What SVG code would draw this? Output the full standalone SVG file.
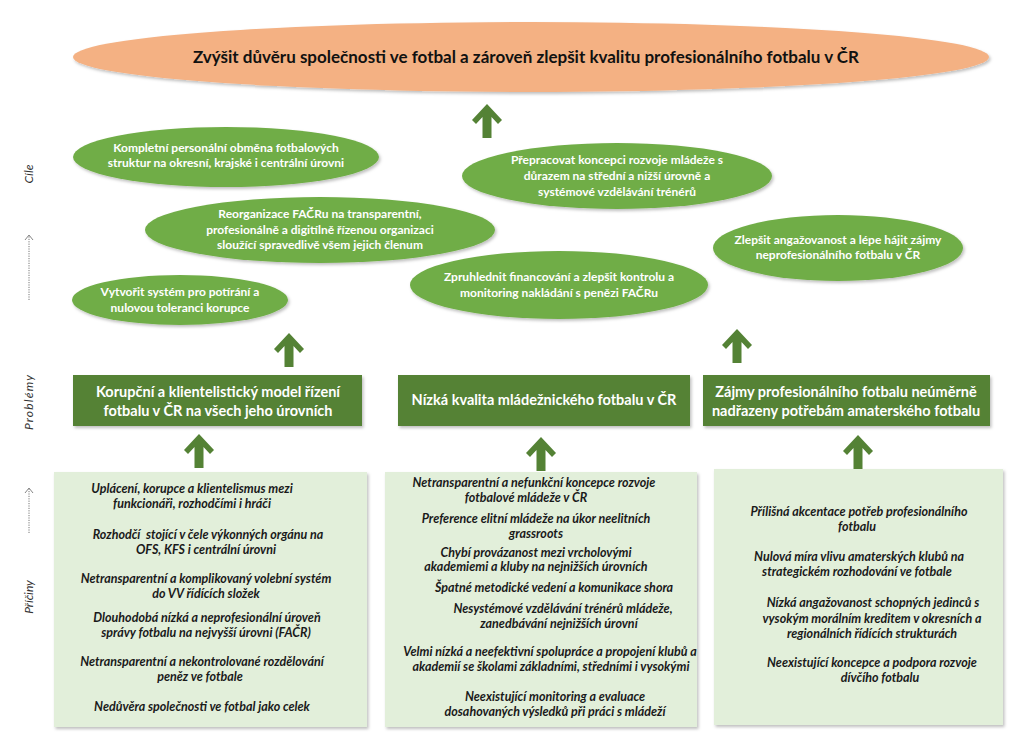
<svg xmlns="http://www.w3.org/2000/svg" width="1024" height="748" viewBox="0 0 1024 748">
<defs>
<filter id="sh" x="-10%" y="-10%" width="120%" height="130%">
<feDropShadow dx="1.5" dy="2" stdDeviation="1.5" flood-color="#000" flood-opacity="0.25"/>
</filter>
<path id="arr" d="M0,0 L15,16 L11,20 L4.5,13 L4.5,34 L-4.5,34 L-4.5,13 L-11,20 L-15,16 Z"/>
</defs>
<style>
.top{fill:#F4B183;filter:url(#sh)}
.goal{fill:#70AD47;filter:url(#sh)}
.prob{fill:#548235;filter:url(#sh)}
.cause{fill:#E2EFDA;filter:url(#sh)}
.arrow{fill:#548235}
.tt{font-family:Lato,"Liberation Sans",sans-serif;font-weight:bold;font-size:17px;fill:#111;text-anchor:middle}
.gt{font-family:Lato,"Liberation Sans",sans-serif;font-weight:bold;font-size:12px;fill:#fff;text-anchor:middle}
.pt{font-family:Lato,"Liberation Sans",sans-serif;font-weight:bold;font-size:14.5px;fill:#fff;text-anchor:middle}
.ct{font-family:Lato,"Liberation Sans",sans-serif;font-weight:bold;font-style:italic;font-size:12.5px;fill:#1a1a1a;text-anchor:middle}
.side{font-family:Lato,"Liberation Sans",sans-serif;font-style:italic;font-size:12px;fill:#333;text-anchor:middle}
.dl{stroke:#777;stroke-width:1;stroke-dasharray:1.2,1.2;fill:none}
.dh{stroke:#777;stroke-width:0.9;fill:none}
</style>
<rect width="1024" height="748" fill="#fff"/>

<g id="side-labels">
<text class="side" transform="translate(33,174) rotate(-90)">Cíle</text>
<text class="side" style="letter-spacing:1.2px" transform="translate(33,402) rotate(-90)">Problémy</text>
<text class="side" transform="translate(33,597) rotate(-90)">Příčiny</text>
<line class="dl" x1="29" y1="300" x2="29" y2="236"/>
<path class="dh" d="M25,240 L29,235 L33,240"/>
<line class="dl" x1="29" y1="533" x2="29" y2="489"/>
<path class="dh" d="M25,493 L29,488 L33,493"/>
</g>

<g id="goal-main">
<ellipse class="top" cx="531" cy="57" rx="458" ry="35"/>
<text class="tt" x="526" y="63">Zvýšit důvěru společnosti ve fotbal a zároveň zlepšit kvalitu profesionálního fotbalu v ČR</text>
</g>

<g id="goal-1">
<ellipse class="goal" cx="226" cy="157" rx="153" ry="30"/>
<text class="gt" x="226" y="152">Kompletní personální obměna fotbalových</text>
<text class="gt" x="226" y="167">struktur na okresní, krajské i centrální úrovni</text>
</g>
<g id="goal-2">
<ellipse class="goal" cx="320" cy="230" rx="175" ry="33"/>
<text class="gt" x="320" y="218">Reorganizace FAČRu na transparentní,</text>
<text class="gt" x="320" y="234">profesionálně a digitílně řízenou organizaci</text>
<text class="gt" x="320" y="249">sloužící spravedlivě všem jejich členum</text>
</g>
<g id="goal-3">
<ellipse class="goal" cx="180" cy="300" rx="108" ry="25"/>
<text class="gt" x="180" y="296">Vytvořit systém pro potírání a</text>
<text class="gt" x="180" y="312">nulovou toleranci korupce</text>
</g>
<g id="goal-4">
<ellipse class="goal" cx="617" cy="176" rx="155" ry="33"/>
<text class="gt" x="617" y="164">Přepracovat koncepci rozvoje mládeže s</text>
<text class="gt" x="617" y="180">důrazem na střední a nižší úrovně a</text>
<text class="gt" x="617" y="196">systémové vzdělávání trénérů</text>
</g>
<g id="goal-5">
<ellipse class="goal" cx="838" cy="248" rx="125" ry="33"/>
<text class="gt" x="838" y="244">Zlepšit angažovanost a lépe hájit zájmy</text>
<text class="gt" x="838" y="259">neprofesionálního fotbalu v ČR</text>
</g>
<g id="goal-6">
<ellipse class="goal" cx="559" cy="285" rx="149" ry="34"/>
<text class="gt" x="559" y="281">Zpruhlednit financování a zlepšit kontrolu a</text>
<text class="gt" x="559" y="297">monitoring nakládání s penězi FAČRu</text>
</g>

<g id="problem-1">
<rect class="prob" x="73" y="375" width="289" height="51"/>
<text class="pt" x="218" y="397">Korupční a klientelistický model řízení</text>
<text class="pt" x="218" y="416">fotbalu v ČR na všech jeho úrovních</text>
</g>
<g id="problem-2">
<rect class="prob" x="398" y="375" width="292" height="51"/>
<text class="pt" x="544" y="405">Nízká kvalita mládežnického fotbalu v ČR</text>
</g>
<g id="problem-3">
<rect class="prob" x="703" y="375" width="287" height="51"/>
<text class="pt" x="846" y="397">Zájmy profesionálního fotbalu neúměrně</text>
<text class="pt" x="846" y="416">nadřazeny potřebám amaterského fotbalu</text>
</g>

<g id="causes-1">
<rect class="cause" x="54" y="472" width="313" height="255"/>
<text class="ct" x="192" y="493">Uplácení, korupce a klientelismus mezi</text>
<text class="ct" x="192" y="508">funkcionáři, rozhodčími i hráči</text>
<text class="ct" x="208" y="539" xml:space="preserve">Rozhodčí  stojící v čele výkonných orgánu na</text>
<text class="ct" x="206" y="554">OFS, KFS i centrální úrovni</text>
<text class="ct" x="206" y="583">Netransparentní a komplikovaný volební systém</text>
<text class="ct" x="206" y="598">do VV řídících složek</text>
<text class="ct" x="207" y="622">Dlouhodobá nízká a neprofesionální úroveň</text>
<text class="ct" x="206" y="637">správy fotbalu na nejvyšší úrovni (FAČR)</text>
<text class="ct" x="202" y="666">Netransparentní a nekontrolované rozdělování</text>
<text class="ct" x="200" y="681">peněz ve fotbale</text>
<text class="ct" x="202" y="711">Nedůvěra společnosti ve fotbal jako celek</text>
</g>
<g id="causes-2">
<rect class="cause" x="385" y="472" width="312" height="255"/>
<text class="ct" x="534" y="487">Netransparentní a nefunkční koncepce rozvoje</text>
<text class="ct" x="526" y="502">fotbalové mládeže v ČR</text>
<text class="ct" x="536" y="523">Preference elitní mládeže na úkor neelitních</text>
<text class="ct" x="536" y="538">grassroots</text>
<text class="ct" x="536" y="557">Chybí provázanost mezi vrcholovými</text>
<text class="ct" x="536" y="571">akademiemi a kluby na nejnižších úrovních</text>
<text class="ct" x="554" y="592">Špatné metodické vedení a komunikace shora</text>
<text class="ct" x="563" y="613">Nesystémové vzdělávání trénérů mládeže,</text>
<text class="ct" x="559" y="628">zanedbávání nejnižších úrovní</text>
<text class="ct" x="550" y="656">Velmi nízká a neefektivní spolupráce a propojení klubů a</text>
<text class="ct" x="551" y="671">akademií se školami základními, středními i vysokými</text>
<text class="ct" x="555" y="701">Neexistující monitoring a evaluace</text>
<text class="ct" x="555" y="716">dosahovaných výsledků při práci s mládeží</text>
</g>
<g id="causes-3">
<rect class="cause" x="714" y="469" width="289" height="256"/>
<text class="ct" x="859" y="516">Přílišná akcentace potřeb profesionálního</text>
<text class="ct" x="857" y="531">fotbalu</text>
<text class="ct" x="859" y="561">Nulová míra vlivu amaterských klubů na</text>
<text class="ct" x="857" y="576">strategickém rozhodování ve fotbale</text>
<text class="ct" x="873" y="607">Nízká angažovanost schopných jedinců s</text>
<text class="ct" x="872" y="623">vysokým morálním kreditem v okresních a</text>
<text class="ct" x="872" y="638">regionálních řídících strukturách</text>
<text class="ct" x="872" y="667">Neexistující koncepce a podpora rozvoje</text>
<text class="ct" x="880" y="682">dívčího fotbalu</text>
</g>

<g id="connectors">
<use href="#arr" class="arrow" x="487" y="104"/>
<use href="#arr" class="arrow" x="289" y="333"/>
<use href="#arr" class="arrow" x="737" y="329"/>
<use href="#arr" class="arrow" x="199" y="434"/>
<use href="#arr" class="arrow" x="541" y="437"/>
<use href="#arr" class="arrow" x="858" y="435"/>
</g>
</svg>
